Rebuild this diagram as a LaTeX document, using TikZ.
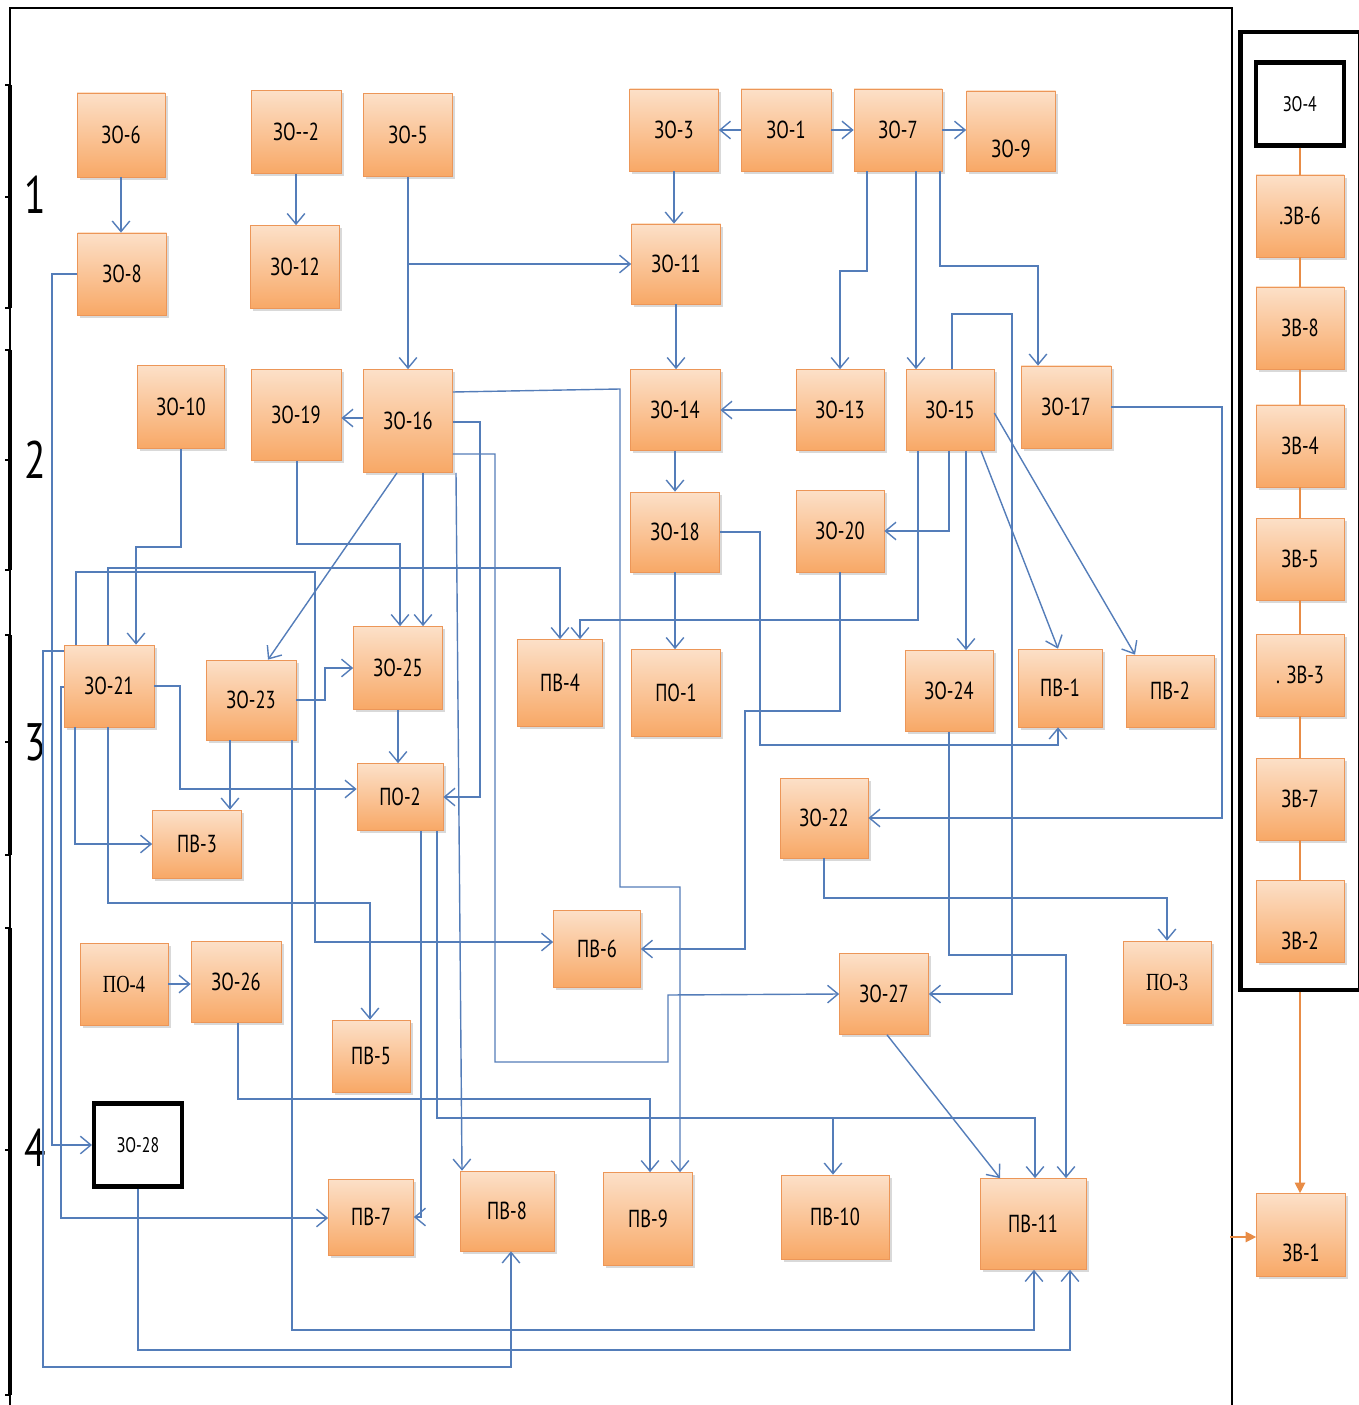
\documentclass[tikz,border=0pt]{standalone}
\usepackage{fontspec}
\usepackage{tikz}
\usetikzlibrary{arrows.meta,shadows,fit}
\newfontfamily\boxfont[FakeStretch=0.75]{PT Sans}
\newfontfamily\boxserif[FakeStretch=0.75]{Liberation Serif}
\definecolor{boxtop}{RGB}{252,224,200}
\definecolor{boxbottom}{RGB}{248,168,102}
\definecolor{boxline}{RGB}{236,150,88}
\definecolor{linkblue}{RGB}{84,125,185}
\definecolor{chainorange}{RGB}{232,140,70}
\tikzset{
    opbox/.style = {rectangle, draw=boxline, thin, top color=boxtop, bottom color=boxbottom, inner sep=0pt, drop shadow={shadow xshift=1.5pt, shadow yshift=-1.5pt, opacity=0.3}, font=\boxfont\fontsize{14}{14}\selectfont},
    sz/.style 2 args = {minimum width=#1*0.02cm, minimum height=#2*0.02cm},
    serifbox/.style = {font=\boxserif\fontsize{14}{14}\selectfont},
    keybox/.style = {rectangle, draw=black, line width=2.3pt, fill=white, inner sep=0pt, font=\boxfont\fontsize{12}{12}\selectfont},
    link/.style = {draw=linkblue, line width=0.8pt, -{Straight Barb[length=6pt, width=10pt]}},
    chain/.style = {draw=chainorange, line width=0.7pt},
    feed/.style = {draw=chainorange, line width=0.7pt, -{Triangle[length=6pt, width=6pt]}},
    stage/.style = {font=\boxfont\fontsize{30}{30}\selectfont},
}

\begin{document}
\begin{tikzpicture}[x=0.02cm, y=-0.02cm]
\useasboundingbox (0,0) rectangle (1358,1405);

% frame and stages
\draw[line width=1.1pt] (10,1405) -- (10,8) -- (1232,8) -- (1232,1405);
\foreach \ya/\yb/\ym in {85/308/197, 350/570/460, 635/855/742, 928/1395/1150} {
    \draw[line width=2.3pt] (10,\ya) -- (10,\yb);
    \foreach \t in {\ya,\ym,\yb} \draw[line width=1.6pt] (5,\t) -- (10,\t);
}
\node[stage] (stage1) at (35,195) {1};
\node[stage] (stage2) at (35,460) {2};
\node[stage] (stage3) at (35,742) {3};
\node[stage] (stage4) at (35,1148) {4};

% row 1
\node[opbox, sz={88}{84}] (zo6) at (121,135) {ЗО-6};
\node[opbox, sz={90}{83}] (zo2) at (296,132) {ЗО-{}-2};
\node[opbox, sz={89}{83}] (zo5) at (408,135) {ЗО-5};
\node[opbox, sz={89}{82}] (zo3) at (674,130) {ЗО-3};
\node[opbox, sz={90}{82}] (zo1) at (786,130) {ЗО-1};
\node[opbox, sz={88}{82}] (zo7) at (898,130) {ЗО-7};
\node[opbox, sz={89}{80}] (zo9) at (1011,131) {\raisebox{-15pt}[0pt][0pt]{ЗО-9}};
\node[opbox, sz={89}{82}] (zo8) at (122,274) {ЗО-8};
\node[opbox, sz={89}{83}] (zo12) at (295,267) {ЗО-12};
\node[opbox, sz={89}{80}] (zo11) at (676,264) {ЗО-11};

% row 2
\node[opbox, sz={87}{83}] (zo10) at (181,407) {ЗО-10};
\node[opbox, sz={90}{91}] (zo19) at (296,415) {ЗО-19};
\node[opbox, sz={89}{103}] (zo16) at (408,421) {ЗО-16};
\node[opbox, sz={90}{81}] (zo14) at (675,410) {ЗО-14};
\node[opbox, sz={88}{81}] (zo13) at (840,410) {ЗО-13};
\node[opbox, sz={88}{81}] (zo15) at (950,410) {ЗО-15};
\node[opbox, sz={90}{82}] (zo17) at (1066,407) {ЗО-17};
\node[opbox, sz={89}{80}] (zo18) at (675,532) {ЗО-18};
\node[opbox, sz={88}{82}] (zo20) at (840,531) {ЗО-20};

% row 3
\node[opbox, sz={90}{82}] (zo21) at (109,686) {ЗО-21};
\node[opbox, sz={90}{80}] (zo23) at (251,700) {ЗО-23};
\node[opbox, sz={89}{83}] (zo25) at (398,668) {ЗО-25};
\node[opbox, sz={85}{87}] (pv4) at (560,683) {ПВ-4};
\node[opbox, sz={89}{87}] (po1) at (676,693) {ПО-1};
\node[opbox, sz={88}{81}] (zo24) at (949,691) {ЗО-24};
\node[opbox, sz={84}{78}] (pv1) at (1060,688) {ПВ-1};
\node[opbox, sz={88}{72}] (pv2) at (1170,691) {ПВ-2};
\node[opbox, sz={86}{67}] (po2) at (400,797) {ПО-2};
\node[opbox, sz={89}{68}] (pv3) at (197,844) {ПВ-3};
\node[opbox, sz={88}{80}] (zo22) at (824,818) {ЗО-22};

% row 4
\node[opbox, sz={87}{77}] (pv6) at (597,949) {ПВ-6};
\node[opbox, serifbox, sz={88}{82}] (po4) at (124,984) {ПО-4};
\node[opbox, sz={90}{81}] (zo26) at (236,982) {ЗО-26};
\node[opbox, sz={89}{81}] (zo27) at (884,994) {ЗО-27};
\node[opbox, serifbox, sz={88}{82}] (po3) at (1167,982) {ПО-3};
\node[opbox, sz={78}{72}] (pv5) at (371,1056) {ПВ-5};
\node[keybox, sz={88}{83}] (zo28) at (138,1145) {ЗО-28};
\node[opbox, sz={85}{76}] (pv7) at (371,1217) {ПВ-7};
\node[opbox, sz={94}{80}] (pv8) at (507,1211) {ПВ-8};
\node[opbox, sz={89}{93}] (pv9) at (648,1219) {ПВ-9};
\node[opbox, sz={108}{84}] (pv10) at (835,1217) {ПВ-10};
\node[opbox, sz={106}{91}] (pv11) at (1033,1224) {ПВ-11};

% right column
\node[keybox, sz={88}{83}] (zo4) at (1300,104) {ЗО-4};
\node[opbox, sz={88}{82}] (zv6) at (1300,216) {.ЗВ-6};
\node[opbox, sz={88}{82}] (zv8) at (1300,328) {ЗВ-8};
\node[opbox, sz={88}{82}] (zv4) at (1300,446) {ЗВ-4};
\node[opbox, sz={88}{82}] (zv5) at (1300,559) {ЗВ-5};
\node[opbox, sz={88}{82}] (zv3) at (1300,675) {. ЗВ-3};
\node[opbox, sz={88}{82}] (zv7) at (1300,799) {ЗВ-7};
\node[opbox, sz={88}{82}] (zv2) at (1300,921) {\raisebox{-16pt}[0pt][0pt]{ЗВ-2}};
\node[opbox, sz={89}{83}] (zv1) at (1301,1235) {\raisebox{-15pt}[0pt][0pt]{ЗВ-1}};
\node[fit=(zo4)(zv2), draw=black, line width=2.3pt, inner xsep=0.27cm, inner ysep=0.56cm] (zvframe) {};
\coordinate (zvin) at (1230,1237);

\foreach \a/\b in {zo4/zv6, zv6/zv8, zv8/zv4, zv4/zv5, zv5/zv3, zv3/zv7, zv7/zv2}
    \draw[chain] (\a.south) -- (\b.north);
\draw[feed] (zvframe.south) -- (zvframe.south |- zv1.north);
\draw[feed] (zvin) -- (zvin -| zv1.west);

% upper links
\draw[link] (zo6.south) -- (zo6.south |- zo8.north);
\draw[link] (zo2.south) -- (zo2.south |- zo12.north);
\draw[link] (zo5.south) -- (zo5.south |- zo16.north);
\draw[link] (zo5.south |- zo11.west) -- (zo11.west);
\draw[link] (zo1.west) -- (zo3.east);
\draw[link] (zo1.east) -- (zo7.west);
\draw[link] (zo7.east) -- (zo9.west |- zo7.east);
\draw[link] (zo3.south) -- (zo3.south |- zo11.north);
\draw[link] (zo11.south) -- (zo11.south |- zo14.north);
\draw[link] (zo7.south -| 867,0) |- (zo13.north |- 0,271) -- (zo13.north);
\draw[link] (zo7.south -| 916,0) -- (zo15.north -| 916,0);
\draw[link] (zo7.south -| 940,0) |- (1038,266) -- (zo17.north -| 1038,0);
\draw[link] (zo13.west) -- (zo14.east);
\draw[link] (zo14.south) -- (zo14.south |- zo18.north);
\draw[link] (zo18.south) -- (zo18.south |- po1.north);
\draw[link] (zo16.west |- 0,418) -- (zo19.east |- 0,418);

% links from ZO-15 and the right side
\draw[link] (zo15.north -| 952,0) |- (1012,314) |- (zo27.east);
\draw[link] (zo15.south -| 918,0) |- (580,620) -- (pv4.north -| 580,0);
\draw[link] (zo15.south -| 949,0) |- (zo20.east);
\draw[link] (zo15.south -| 966,0) -- (zo24.north -| 966,0);
\draw[link] (zo15.south -| 981,0) -- (pv1.north -| 1058,0);
\draw[link] (zo15.east |- 0,413) -- (pv2.north -| 1135,0);
\draw[link] (zo17.east) -| (1222,818) -- (zo22.east);
\draw[link] (zo20.south) |- (745,711) |- (pv6.east);
\draw[link] (zo18.east) -| (760,745) -| (pv1.south -| 1058,0);
\draw[link] (zo24.south) |- (1066,955) -- (pv11.north -| 1066,0);
\draw[link] (zo22.south) |- (1167,898) -- (po3.north);
\draw[link] (zo27.south -| 887,0) -- (pv11.north -| 1000,0);

% links from ZO-16
\draw[link] (zo16.east |- 0,392) -- (620,389) |- (680,887) -- (pv9.north -| 680,0);
\draw[link] (zo16.east |- 0,422) -| (480,797) -- (po2.east);
\draw[link] (zo16.east |- 0,454) -| (495,1062) -| (668,995) -- (zo27.west);
\draw[link] (zo16.south -| 456,0) -- (pv8.north -| 462,0);
\draw[link] (zo16.south -| 423,0) -- (zo25.north -| 423,0);
\draw[link] (zo16.south -| 397,0) -- (zo23.north -| 268,0);

% left part
\draw[link] (zo19.south -| 297,0) |- (400,544) -- (zo25.north -| 400,0);
\draw[link] (zo10.south) |- (136,547) -- (zo21.north -| 136,0);
\draw[link] (zo23.east) -| (325,668) -- (zo25.west |- 0,668);
\draw[link] (zo25.south) -- (zo25.south |- po2.north);
\draw[link] (zo21.east) -| (180,789) -- (po2.west |- 0,789);
\draw[link] (zo23.south -| 230,0) -- (pv3.north -| 230,0);
\draw[link] (zo21.south -| 75,0) |- (pv3.west);
\draw[link] (zo21.south -| 108,0) |- (370,903) -- (pv5.north -| 370,0);
\draw[link] (zo21.north -| 76,0) |- (315,572) |- (pv6.west |- 0,942);
\draw[link] (zo21.north -| 108,0) |- (560,568) -- (pv4.north -| 560,0);
\draw[link] (zo8.west) -| (zo28.west -| 52,0) -- (zo28.west);
\draw[link] (zo21.west |- 0,651) -| (43,1367) -| (pv8.south -| 511,0);
\draw[link] (zo21.west |- 0,687) -| (61,1218) -- (pv7.west |- 0,1218);
\draw[link] (po4.east) -- (zo26.west |- po4.east);

% lower links
\coordinate (tapten) at (833,1118);
\draw[link] (po2.south -| 437,0) |- (1035,1118) -- (pv11.north -| 1035,0);
\draw[link] (tapten) -- (pv10.north -| 833,0);
\draw[link] (zo26.south -| 238,0) |- (650,1099) -- (pv9.north -| 650,0);
\draw[link] (po2.south -| 421,0) |- (pv7.east);
\draw[link] (zo23.south -| 292,0) |- (1034,1330) -- (pv11.south -| 1034,0);
\draw[link] (zo28.south) |- (1070,1350) -- (pv11.south -| 1070,0);
\end{tikzpicture}
\end{document}
